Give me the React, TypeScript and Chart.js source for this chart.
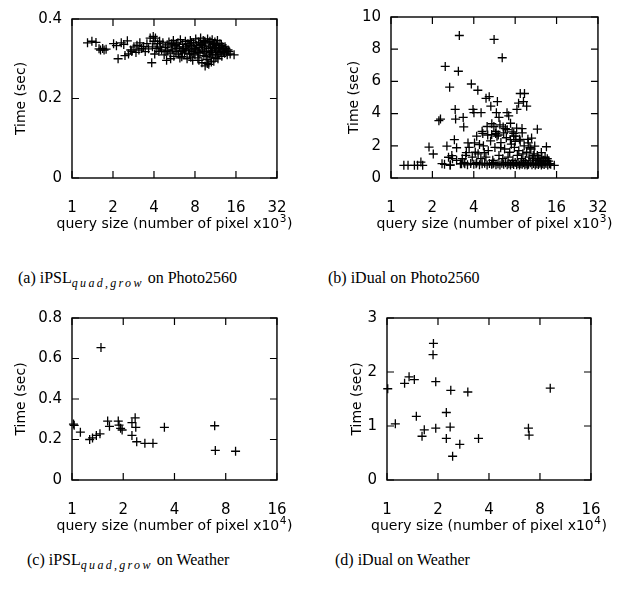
import React, { useEffect, useRef } from 'react';
import { Chart, registerables } from 'chart.js';

Chart.register(...registerables);

// ---------- DATA ----------
const photoTicksX = [1, 2, 4, 8, 16, 32];
const weatherTicksX = [1, 2, 4, 8, 16];

const xTitleBase = 'query size (number of pixel x10';
const photoExp = '3';
const weatherExp = '4';
const timeTitle = 'Time (sec)';

// (a) iPSL on Photo2560  (x: 10^3 pixels, y: sec)
const photoPslX = [
  1.3, 1.4, 1.5, 1.58, 1.62, 1.68, 1.72, 1.78, 2.02, 2.12, 2.18, 2.3, 2.4, 2.45, 2.55, 2.6, 2.7, 2.75, 2.85, 2.95,
  3.0, 3.1, 3.15, 3.25, 3.35, 3.45, 3.55, 3.65, 3.75, 3.85, 3.9, 4.0, 4.05, 4.15, 4.25, 4.35, 4.45, 4.55, 4.65, 4.75,
  4.85, 4.95, 5.0, 5.05, 5.15, 5.25, 5.35, 5.45, 5.55, 5.6, 5.7, 5.8, 5.9, 6.0, 6.05, 6.15, 6.25, 6.3, 6.4, 6.5,
  6.6, 6.7, 6.8, 6.9, 7.0, 7.1, 7.2, 7.3, 7.4, 7.5, 7.6, 7.7, 7.8, 7.9, 8.0, 8.1, 8.2, 8.3, 8.4, 8.5,
  8.6, 8.7, 8.8, 8.9, 9.0, 9.1, 9.2, 9.3, 9.4, 9.5, 9.6, 9.7, 9.8, 9.9, 10.0, 10.1, 10.2, 10.3, 10.4, 10.5,
  10.6, 10.7, 10.8, 10.9, 11.0, 11.1, 11.2, 11.3, 11.4, 11.5, 11.6, 11.7, 11.8, 11.9, 12.0, 12.2, 12.4, 12.6, 12.8, 13.0,
  13.2, 13.5, 13.8, 14.2, 15.5, 8.05, 8.45, 8.75, 9.05, 9.35, 9.65, 9.85, 10.15, 10.45, 10.75, 11.05, 11.35, 11.65, 7.25, 7.55,
  7.85, 6.45, 6.85, 5.85, 5.4, 4.9, 4.4, 3.95, 4.1, 12.1, 12.5, 12.9, 13.3, 14.0, 14.5, 13.6, 9.45, 10.55, 8.55, 7.45,
  6.2, 5.3,
];
const photoPslY = [
  0.34, 0.344, 0.341, 0.325, 0.322, 0.326, 0.322, 0.324, 0.338, 0.333, 0.3, 0.34, 0.336, 0.308, 0.345, 0.312, 0.322, 0.318, 0.33, 0.316,
  0.334, 0.322, 0.34, 0.326, 0.331, 0.318, 0.338, 0.325, 0.352, 0.29, 0.33, 0.344, 0.312, 0.326, 0.338, 0.318, 0.33, 0.322, 0.34, 0.31,
  0.328, 0.296, 0.335, 0.32, 0.342, 0.314, 0.33, 0.322, 0.346, 0.306, 0.334, 0.318, 0.326, 0.34, 0.312, 0.33, 0.348, 0.32, 0.305, 0.336,
  0.326, 0.314, 0.344, 0.33, 0.3, 0.338, 0.322, 0.312, 0.346, 0.33, 0.318, 0.296, 0.34, 0.326, 0.31, 0.35, 0.334, 0.32, 0.302, 0.342,
  0.328, 0.314, 0.352, 0.336, 0.29, 0.322, 0.346, 0.308, 0.33, 0.282, 0.34, 0.318, 0.298, 0.35, 0.326, 0.286, 0.312, 0.344, 0.332, 0.302,
  0.32, 0.348, 0.31, 0.336, 0.294, 0.326, 0.342, 0.316, 0.304, 0.334, 0.322, 0.346, 0.3, 0.328, 0.312, 0.338, 0.318, 0.306, 0.33, 0.322,
  0.314, 0.326, 0.31, 0.318, 0.31, 0.324, 0.316, 0.34, 0.334, 0.318, 0.306, 0.288, 0.34, 0.316, 0.328, 0.338, 0.328, 0.31, 0.334, 0.34,
  0.314, 0.318, 0.322, 0.336, 0.338, 0.318, 0.344, 0.356, 0.352, 0.326, 0.334, 0.316, 0.33, 0.322, 0.312, 0.318, 0.344, 0.292, 0.296, 0.304,
  0.302, 0.3,
];

// (b) iDual on Photo2560
const photoDualX = [
  1.24, 1.33, 1.48, 1.56, 1.65, 1.7, 1.89, 2.03, 2.23, 2.29, 2.35, 2.48, 2.55, 2.62, 2.67, 2.69, 2.77, 2.89, 2.93, 2.95,
  3.0, 3.09, 3.14, 3.26, 3.35, 3.38, 3.44, 3.53, 3.63, 3.84, 3.95, 4.01, 4.05, 4.16, 4.28, 4.4, 4.52, 4.65, 4.77, 4.91,
  5.05, 5.18, 5.32, 5.41, 5.53, 5.62, 5.77, 5.84, 5.94, 6.03, 6.1, 6.27, 6.44, 6.54, 6.79, 6.98, 7.18, 7.39, 7.6, 7.81,
  8.0, 8.24, 8.47, 8.71, 8.97, 9.19, 9.35, 9.7, 9.96, 10.24, 10.53, 10.83, 11.1, 11.6, 11.7, 12.4, 13.5, 13.2, 14.2, 15.4,
  2.45, 2.7, 3.2, 3.4, 3.6, 3.8, 4.0, 4.2, 4.4, 4.6, 4.8, 5.0, 5.2, 5.4, 5.6, 5.8, 6.0, 6.2, 6.4, 6.6,
  6.8, 7.0, 7.2, 7.4, 7.6, 7.8, 8.0, 8.2, 8.4, 8.6, 8.8, 9.0, 9.2, 9.4, 9.6, 9.8, 10.0, 10.3, 10.6, 10.9,
  11.2, 11.5, 11.8, 12.1, 12.4, 12.7, 13.0, 13.4, 13.8, 14.5,
  4.3, 4.5, 4.7, 4.9, 5.1, 5.3, 5.5, 5.7, 5.9, 6.1, 6.3, 6.5, 6.7, 6.9, 7.1, 7.3, 7.5, 7.7, 7.9, 8.1,
  8.3, 8.5, 8.7, 8.9, 9.1, 9.3, 9.5, 9.7, 9.9, 10.1, 10.4, 10.7, 11.0, 11.3, 11.6, 11.9, 12.2, 12.5, 12.9, 13.3,
  13.7, 14.0, 3.3, 3.5, 3.7, 3.9, 4.1, 3.0, 2.8,
  5.4, 5.6, 5.8, 6.2, 6.6, 7.0, 7.4, 7.8, 8.2, 8.6, 9.0, 5.0, 4.6, 4.2,
];
const photoDualY = [
  0.79, 0.79, 0.79, 0.79, 0.99, 0.79, 1.92, 1.49, 3.56, 3.66, 0.89, 6.93, 1.98, 1.29, 5.64, 0.79, 1.39, 2.38, 4.26, 3.66,
  1.88, 6.63, 8.85, 0.89, 3.76, 3.17, 0.89, 1.58, 2.18, 5.84, 4.26, 4.06, 2.18, 0.89, 5.45, 2.08, 4.06, 2.77, 1.58, 4.95,
  2.67, 5.05, 4.46, 3.37, 0.89, 8.61, 2.77, 4.06, 4.75, 2.67, 3.76, 1.88, 7.47, 3.17, 3.07, 4.06, 3.86, 2.38, 2.87, 2.77,
  2.28, 4.26, 4.65, 5.25, 3.07, 4.75, 5.25, 4.46, 2.18, 1.88, 2.48, 1.39, 1.98, 3.03, 1.19, 1.58, 1.94, 1.29, 0.89, 0.79,
  0.85, 0.82, 0.88, 0.95, 0.82, 0.9, 0.85, 0.95, 0.82, 0.88, 0.92, 0.8, 0.9, 0.85, 0.95, 0.82, 0.88, 0.8, 0.92, 0.85,
  0.95, 0.82, 0.88, 0.8, 0.9, 0.84, 0.96, 0.82, 0.9, 0.8, 0.88, 0.85, 0.95, 0.82, 0.9, 0.8, 0.86, 0.94, 0.82, 0.9,
  0.8, 0.88, 0.84, 0.92, 0.8, 0.88, 0.84, 0.9, 0.8, 0.86,
  1.5, 1.2, 2.0, 1.3, 1.7, 2.3, 1.1, 1.9, 2.6, 1.4, 2.2, 1.2, 1.8, 2.5, 1.3, 1.6, 2.1, 1.1, 1.9, 2.6,
  1.4, 1.7, 2.3, 1.2, 1.5, 2.0, 1.1, 1.6, 2.4, 1.3, 1.8, 1.2, 1.5, 1.1, 1.4, 1.2, 1.0, 1.3, 1.1, 1.0,
  1.2, 1.05, 1.2, 1.4, 1.9, 1.3, 1.6, 1.1, 1.2,
  2.7, 3.2, 2.9, 3.3, 2.8, 3.0, 3.4, 2.6, 3.1, 2.4, 2.8, 3.2, 2.9, 2.6,
];

// (c) iPSL on Weather (x: 10^4 pixels)
const weatherPslX = [1.02, 1.03, 1.12, 1.27, 1.32, 1.39, 1.46, 1.48, 1.62, 1.66, 1.87, 1.89, 1.93, 1.97, 2.25, 2.25, 2.35, 2.37, 2.4, 2.68, 2.99, 3.49, 6.89, 6.95, 9.14];
const weatherPslY = [0.276, 0.27, 0.236, 0.2, 0.208, 0.22, 0.228, 0.654, 0.291, 0.265, 0.291, 0.271, 0.255, 0.247, 0.283, 0.22, 0.307, 0.26, 0.189, 0.181, 0.181, 0.26, 0.268, 0.146, 0.142];

// (d) iDual on Weather
const weatherDualX = [1.01, 1.12, 1.27, 1.35, 1.45, 1.49, 1.61, 1.66, 1.88, 1.87, 1.94, 1.94, 2.24, 2.24, 2.38, 2.36, 2.44, 2.69, 3.0, 3.47, 6.84, 6.9, 9.2];
const weatherDualY = [1.69, 1.04, 1.79, 1.91, 1.86, 1.18, 0.81, 0.93, 2.53, 2.32, 1.82, 0.96, 1.25, 0.77, 1.66, 0.98, 0.44, 0.66, 1.63, 0.77, 0.96, 0.83, 1.7];

// ---------- LAYOUT ----------
const Y_AXIS_W = 72;
const X_AXIS_H = 60;
const PAD_TOP = 12;
const PAD_RIGHT = 25;
const FONT = "'DejaVu Sans', Verdana, sans-serif";
const TITLE_SIZE = 14;
const SUP_SIZE = 10.5;
const TICK_SIZE = 15;

type PanelSpec = {
  xs: number[]; ys: number[]; xTicks: number[]; xMax: number; yMax: number; yStep: number;
  xExp: string; L: number; R: number; T: number; B: number; yTitleCx: number;
};

const panels: PanelSpec[] = [
  { xs: photoPslX, ys: photoPslY, xTicks: photoTicksX, xMax: 32, yMax: 0.4, yStep: 0.2, xExp: photoExp, L: 72, R: 283, T: 12, B: 178, yTitleCx: 21 },
  { xs: photoDualX, ys: photoDualY, xTicks: photoTicksX, xMax: 32, yMax: 10, yStep: 2, xExp: photoExp, L: 391, R: 604, T: 10, B: 178, yTitleCx: 354 },
  { xs: weatherPslX, ys: weatherPslY, xTicks: weatherTicksX, xMax: 16, yMax: 0.8, yStep: 0.2, xExp: weatherExp, L: 72, R: 283, T: 311, B: 480, yTitleCx: 21 },
  { xs: weatherDualX, ys: weatherDualY, xTicks: weatherTicksX, xMax: 16, yMax: 3, yStep: 1, xExp: weatherExp, L: 387, R: 597, T: 311, B: 480, yTitleCx: 357 },
];

const frameTicks = {
  id: 'frameTicks',
  beforeDatasetsDraw(chart: any) {
    const { ctx, chartArea, scales } = chart;
    const { left, right, top, bottom } = chartArea;
    const xs = scales.x;
    const ys = scales.y;
    const len = 7;
    ctx.save();
    ctx.strokeStyle = '#000';
    ctx.lineWidth = 1.2;
    ctx.beginPath();
    xs.ticks.forEach((t: any) => {
      const px = xs.getPixelForValue(t.value);
      ctx.moveTo(px, bottom); ctx.lineTo(px, bottom - len);
      ctx.moveTo(px, top); ctx.lineTo(px, top + len);
    });
    ys.ticks.forEach((t: any) => {
      const py = ys.getPixelForValue(t.value);
      ctx.moveTo(left, py); ctx.lineTo(left + len, py);
      ctx.moveTo(right, py); ctx.lineTo(right - len, py);
    });
    ctx.stroke();
    ctx.lineWidth = 1.4;
    ctx.strokeRect(left, top, right - left, bottom - top);
    ctx.restore();
  },
};

// x-axis title with a raised exponent, centred under the plot
const xAxisTitle = {
  id: 'xAxisTitle',
  afterDraw(chart: any, _args: any, opts: any) {
    const { ctx, chartArea } = chart;
    ctx.save();
    ctx.fillStyle = '#000';
    ctx.textBaseline = 'alphabetic';
    ctx.textAlign = 'left';
    const mainFont = `${TITLE_SIZE}px ${FONT}`;
    const supFont = `${SUP_SIZE}px ${FONT}`;
    ctx.font = mainFont;
    const wBase = ctx.measureText(opts.base).width;
    const wTail = ctx.measureText(')').width;
    ctx.font = supFont;
    const wSup = ctx.measureText(opts.exp).width;
    const total = wBase + wSup + wTail + 1;
    let x = (chartArea.left + chartArea.right) / 2 - total / 2;
    const baseline = chartArea.bottom + opts.offset + TITLE_SIZE * 0.36;
    ctx.font = mainFont;
    ctx.fillText(opts.base, x, baseline);
    x += wBase + 0.5;
    ctx.font = supFont;
    ctx.fillText(opts.exp, x, baseline - 5.5);
    x += wSup + 0.5;
    ctx.font = mainFont;
    ctx.fillText(')', x, baseline);
    ctx.restore();
  },
};

function Panel({ p }: { p: PanelSpec }) {
  const ref = useRef<HTMLCanvasElement>(null);
  const cLeft = p.L - Y_AXIS_W;
  const cTop = p.T - PAD_TOP;
  const w = Y_AXIS_W + (p.R - p.L) + PAD_RIGHT;
  const h = PAD_TOP + (p.B - p.T) + X_AXIS_H;
  useEffect(() => {
    if (!ref.current) return;
    const chart = new Chart(ref.current, {
      type: 'scatter',
      data: {
        datasets: [{
          data: p.xs.map((x, i) => ({ x, y: p.ys[i] })),
          pointStyle: 'cross',
          pointRadius: 4.5,
          pointBorderWidth: 1.3,
          borderColor: '#000',
          backgroundColor: '#000',
          clip: false,
        } as any],
      },
      options: {
        animation: false,
        responsive: false,
        maintainAspectRatio: false,
        events: [],
        layout: { padding: { left: 0, top: PAD_TOP, right: PAD_RIGHT, bottom: 0 } },
        plugins: {
          legend: { display: false },
          tooltip: { enabled: false },
          xAxisTitle: { base: xTitleBase, exp: p.xExp, offset: 44.5 },
        },
        scales: {
          x: {
            type: 'logarithmic',
            min: 1,
            max: p.xMax,
            afterBuildTicks: (s: any) => { s.ticks = p.xTicks.map((v) => ({ value: v })); },
            afterFit: (s: any) => { s.height = X_AXIS_H; },
            grid: { display: false, drawTicks: false },
            border: { display: false },
            ticks: {
              autoSkip: false, maxRotation: 0, minRotation: 0, padding: 21.5, color: '#000',
              font: { family: FONT, size: TICK_SIZE },
              callback: (v: any) => String(v),
            },
            title: { display: false },
          },
          y: {
            type: 'linear',
            min: 0,
            max: p.yMax,
            afterFit: (s: any) => { s.width = Y_AXIS_W; },
            grid: { display: false, drawTicks: false },
            border: { display: false },
            ticks: {
              stepSize: p.yStep, padding: 10, color: '#000',
              font: { family: FONT, size: TICK_SIZE },
            },
            title: {
              display: true, text: timeTitle, color: '#000',
              font: { family: FONT, size: TITLE_SIZE },
              padding: { top: p.yTitleCx - cLeft - TITLE_SIZE * 0.6, bottom: 0 },
            },
          },
        },
      } as any,
      plugins: [frameTicks, xAxisTitle],
    });
    return () => chart.destroy();
  }, []);
  return (
    <canvas
      ref={ref}
      width={w}
      height={h}
      style={{ position: 'absolute', left: cLeft, top: cTop, width: w, height: h }}
    />
  );
}

const capStyle: React.CSSProperties = {
  position: 'absolute',
  fontFamily: "'Liberation Serif', 'Times New Roman', serif",
  fontSize: 16,
  lineHeight: '20px',
  whiteSpace: 'nowrap',
  color: '#000',
};
const subStyle: React.CSSProperties = {
  fontStyle: 'italic',
  fontSize: 12,
  letterSpacing: 2.3,
  position: 'relative',
  top: 4,
};

export default function App() {
  return (
    <div style={{ position: 'absolute', left: 0, top: 0, width: 624, height: 593, background: '#fff', overflow: 'hidden' }}>
      {panels.map((p, i) => <Panel key={i} p={p} />)}
      <div style={{ ...capStyle, left: 18, top: 268 }}>(a) iPSL<span style={subStyle}>quad,grow</span> on Photo2560</div>
      <div style={{ ...capStyle, left: 328, top: 268 }}>(b) iDual on Photo2560</div>
      <div style={{ ...capStyle, left: 27, top: 550 }}>(c) iPSL<span style={subStyle}>quad,grow</span> on Weather</div>
      <div style={{ ...capStyle, left: 335, top: 550 }}>(d) iDual on Weather</div>
    </div>
  );
}
